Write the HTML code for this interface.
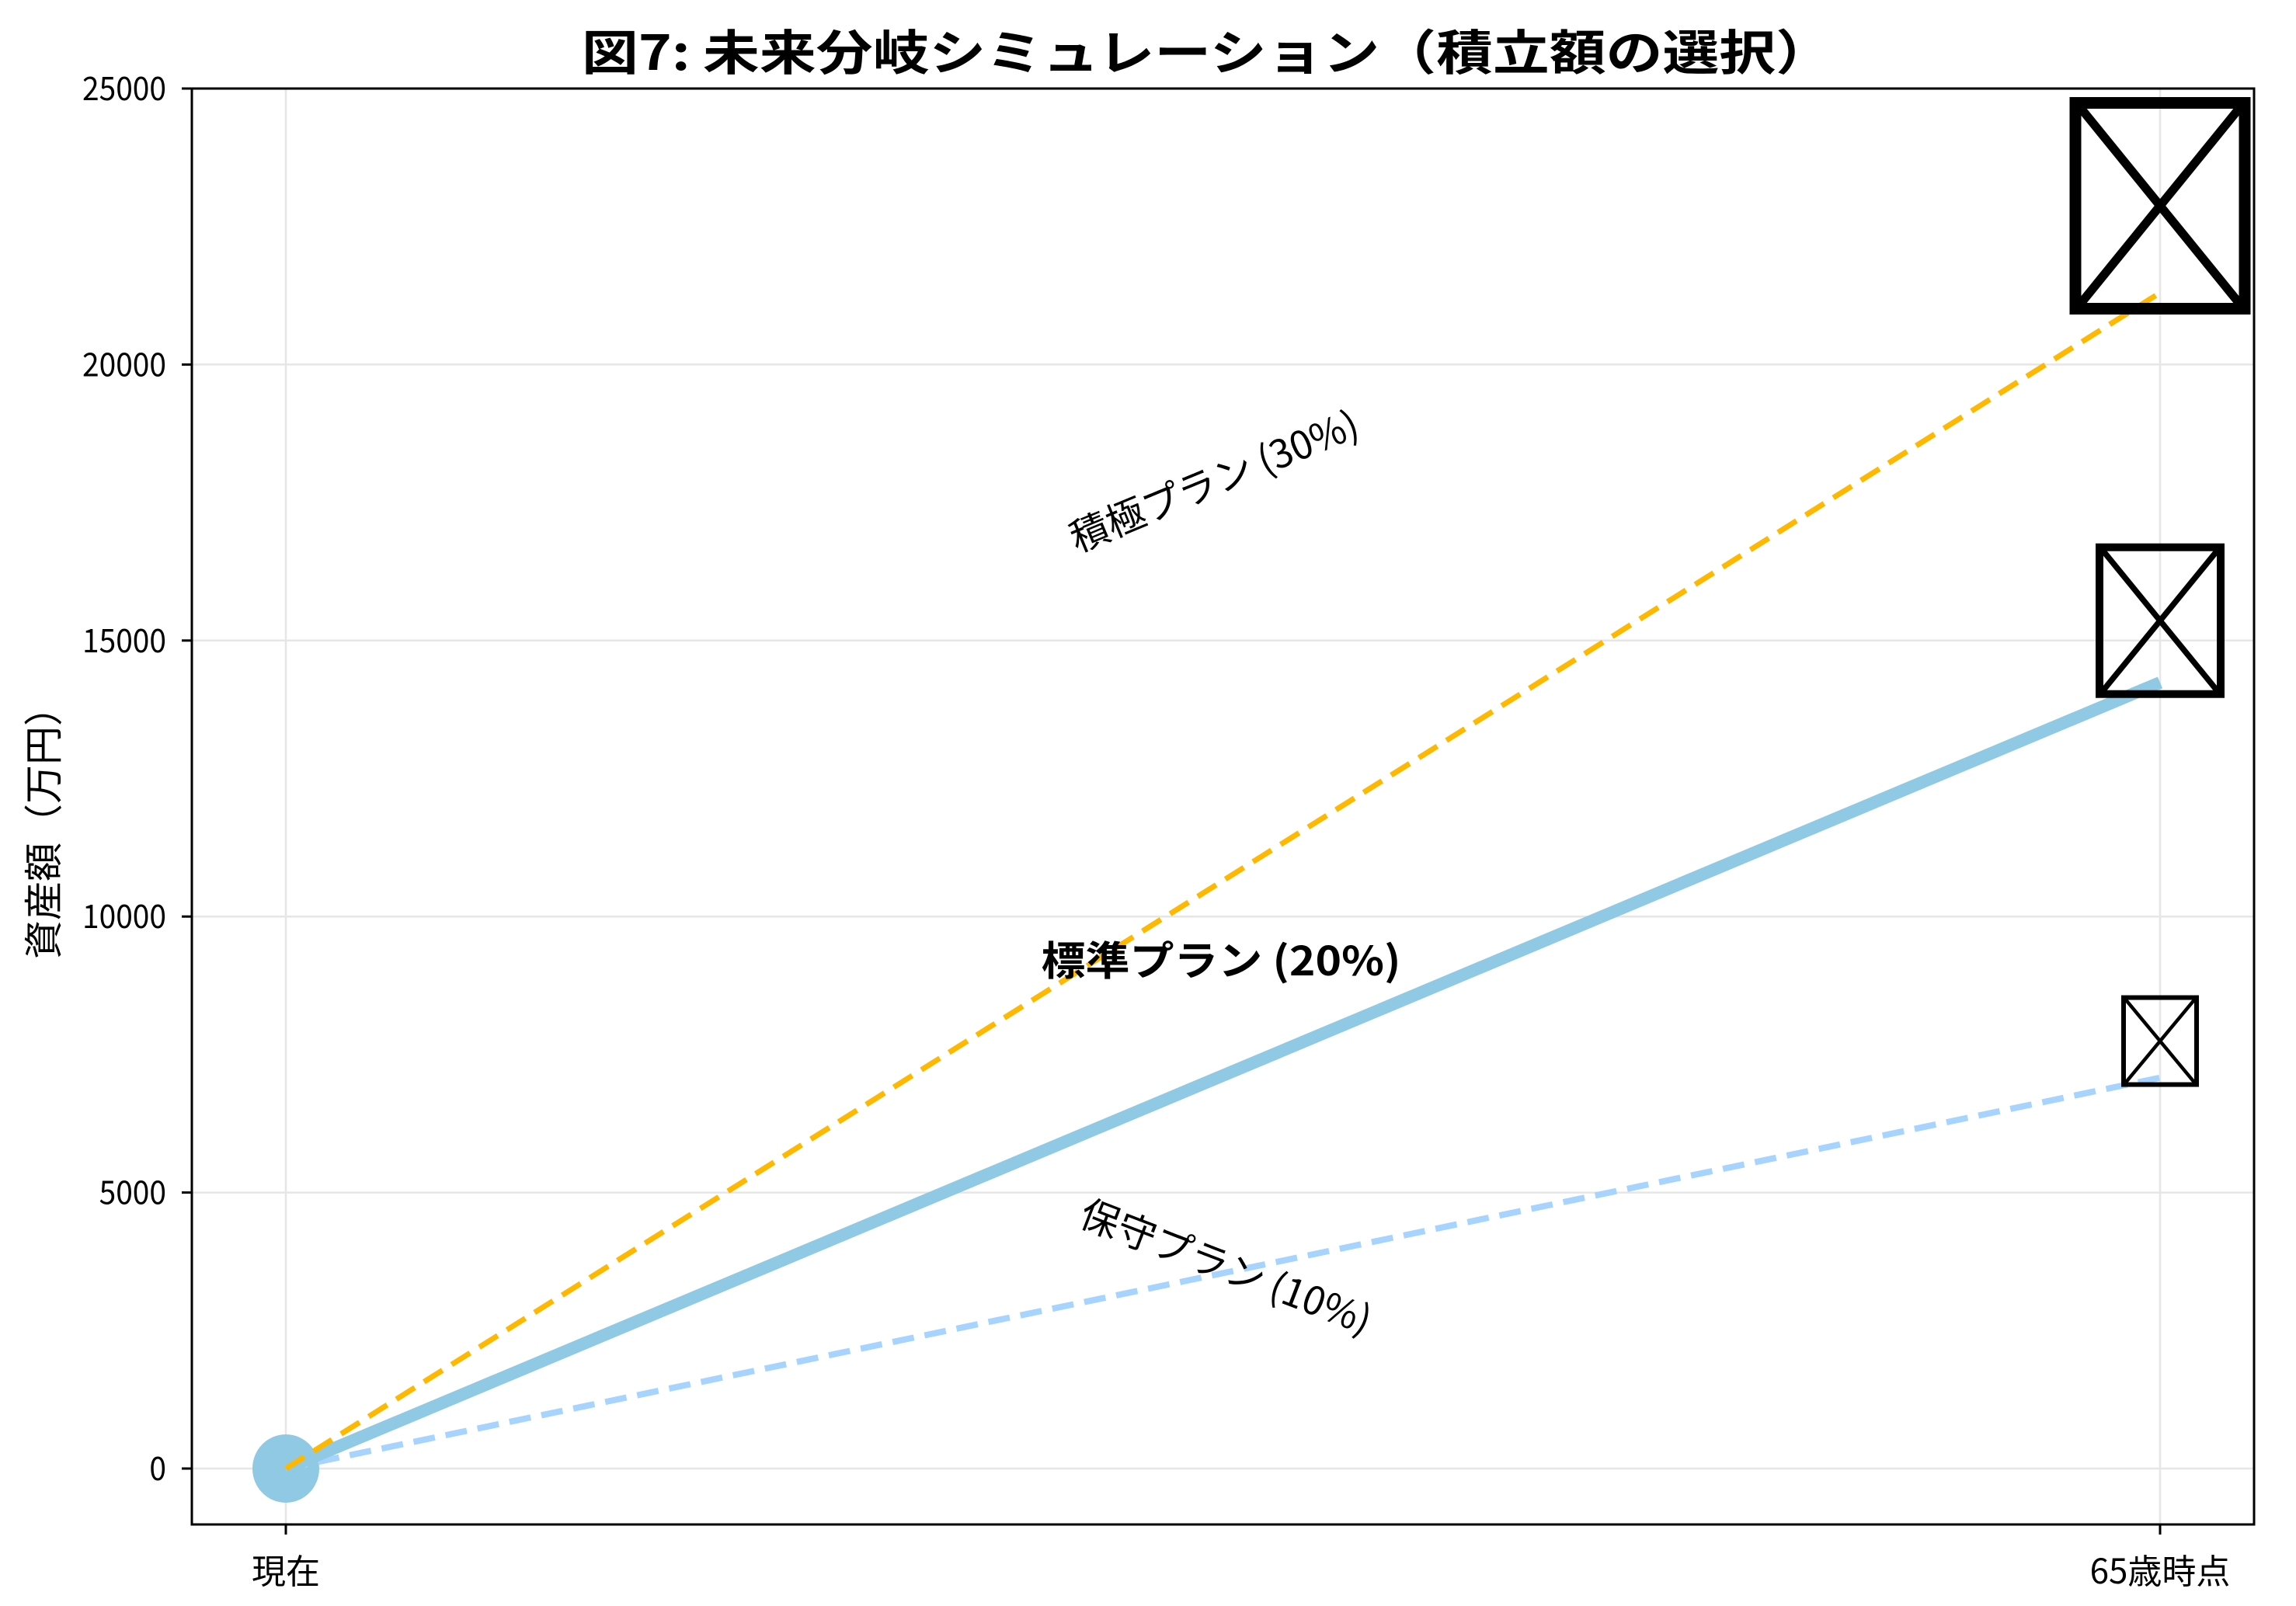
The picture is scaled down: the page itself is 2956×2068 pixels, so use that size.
<!DOCTYPE html>
<html><head><meta charset="utf-8">
<style>
html,body{margin:0;padding:0;background:#fff;}
svg{display:block;}
text{font-family:"Noto Sans CJK JP","Liberation Sans",sans-serif;}
</style></head>
<body>
<svg id="chart" width="2956" height="2068" viewBox="0 0 2956 2068" xmlns="http://www.w3.org/2000/svg">
<rect x="0" y="0" width="2956" height="2068" fill="#fff"/>
<text x="1554" y="90" text-anchor="middle" font-size="62" font-weight="bold" textLength="1610" lengthAdjust="spacingAndGlyphs">図7: 未来分岐シミュレーション（積立額の選択）</text>
<text transform="translate(74,1060) rotate(-90)" text-anchor="middle" font-size="50">資産額（万円）</text>
<g id="grid"></g>
<g id="series"></g>
<g id="axes"></g>
</svg>
<script>
const categories = ["現在", "65歳時点"];
const planNames = ["保守プラン (10%)", "標準プラン (20%)", "積極プラン (30%)"];
const startValues = [0, 0, 0];
const finalValues = [7080, 14240, 21300];
const yTicks = [0, 5000, 10000, 15000, 20000, 25000];

const svg = document.getElementById('chart');
const NS = 'http://www.w3.org/2000/svg';
const L = 247, R = 2902, T = 114, B = 1963;
const X0 = 368, X1 = 2781;
const Y0 = 1891, Y25 = 114;
function xs(i){ return X0 + (X1 - X0) * i; }
function ys(v){ return Y0 + (Y25 - Y0) * v / 25000; }
function mk(tag, attrs, parent){
  const e = document.createElementNS(NS, tag);
  for (const k in attrs) e.setAttribute(k, attrs[k]);
  parent.appendChild(e);
  return e;
}
const grid = document.getElementById('grid');
const series = document.getElementById('series');
const axes = document.getElementById('axes');

yTicks.forEach(v => {
  const g = mk('line', {x1:L, x2:R, y1:ys(v), y2:ys(v), stroke:'#e6e6e6', 'stroke-width':2.5}, grid);
  
  
  const t = mk('line', {x1:L-13, x2:L, y1:ys(v), y2:ys(v), stroke:'#000', 'stroke-width':3}, axes);
  
  
  const lb = mk('text', {x:L-33, y:ys(v)+15, 'text-anchor':'end', 'font-size':42, textLength:String(v).length*21.6, lengthAdjust:'spacingAndGlyphs'}, axes);
  lb.textContent = String(v);
  
  
});
categories.forEach((c, i) => {
  const g = mk('line', {x1:xs(i), x2:xs(i), y1:T, y2:B, stroke:'#e6e6e6', 'stroke-width':2.5}, grid);
  
  
  const t = mk('line', {x1:xs(i), x2:xs(i), y1:B, y2:B+13, stroke:'#000', 'stroke-width':3}, axes);
  
  
  const lb = mk('text', {x:xs(i), y:B+76, 'text-anchor':'middle', 'font-size':44}, axes);
  lb.textContent = c;
  
  
});
const frame = mk('rect', {x:L, y:T, width:R-L, height:B-T, fill:'none', stroke:'#000', 'stroke-width':3}, axes);



const start = mk('ellipse', {cx:xs(0), cy:ys(startValues[1]), rx:43, ry:44, fill:'#90c9e4'}, series);



const colors = ['#a6d4ff', '#90c9e4', '#ffb800'];
const widths = [8, 16, 7];
const dashes = ['28 14', '', '28 14'];
const seriesNames = ['conservative-plan-line', 'standard-plan-line', 'aggressive-plan-line'];
[0, 1, 2].forEach(i => {
  const ln = mk('line', {x1:xs(0), y1:ys(startValues[i]), x2:xs(1), y2:ys(finalValues[i]), stroke:colors[i], 'stroke-width':widths[i]}, series);
  if (dashes[i]) ln.setAttribute('stroke-dasharray', dashes[i]);
  
  
});

const boxW = [100, 166, 233], boxH = [118, 199, 280], boxS = [6, 10, 15];
const boxNames = ['conservative-end-marker', 'standard-end-marker', 'aggressive-end-marker'];
[0,1,2].forEach(i => {
  const cx = xs(1), cy = ys(finalValues[i]) - boxH[i]*0.4;
  const g = mk('g', {}, series);
  
  
  const s = boxS[i], w = boxW[i], h = boxH[i];
  const x = cx - w/2, y = cy - h/2;
  mk('rect', {x:x+s/2, y:y+s/2, width:w-s, height:h-s, fill:'none', stroke:'#000', 'stroke-width':s}, g);
  mk('line', {x1:x+s, y1:y+s, x2:x+w-s, y2:y+h-s, stroke:'#000', 'stroke-width':s*0.75}, g);
  mk('line', {x1:x+w-s, y1:y+s, x2:x+s, y2:y+h-s, stroke:'#000', 'stroke-width':s*0.75}, g);
});

const l0 = mk('text', {x:0, y:0, 'text-anchor':'middle', 'font-size':50, transform:'translate(1572,1648) rotate(21)'}, series);
l0.textContent = planNames[0];


const l1 = mk('text', {x:1572, y:1256, 'text-anchor':'middle', 'font-size':52, 'font-weight':'bold', textLength:463, lengthAdjust:'spacingAndGlyphs'}, series);
l1.textContent = planNames[1];


const l2 = mk('text', {x:0, y:0, 'text-anchor':'middle', 'font-size':50, transform:'translate(1570,636) rotate(-22.5)'}, series);
l2.textContent = planNames[2];


</script>
</body></html>
